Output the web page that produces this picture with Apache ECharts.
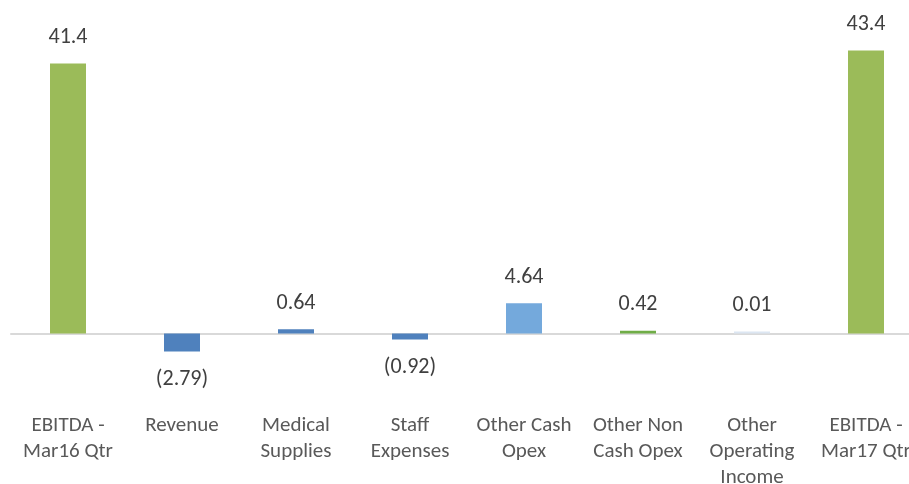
<!DOCTYPE html>
<html>
<head>
<meta charset="utf-8">
<script src="https://cdn.jsdelivr.net/npm/echarts@6/dist/echarts.min.js"></script>
<style>
  html, body { margin: 0; padding: 0; background: #fff; }
  #chart { width: 909px; height: 484px; }
</style>
</head>
<body>
<div id="chart"></div>
<script>
// EBITDA bridge: Mar16 quarter to Mar17 quarter
const categories = [
  'EBITDA -\nMar16 Qtr',
  'Revenue',
  'Medical\nSupplies',
  'Staff\nExpenses',
  'Other Cash\nOpex',
  'Other Non\nCash Opex',
  'Other\nOperating\nIncome',
  'EBITDA -\nMar17 Qtr'
];
const values = [41.4, -2.79, 0.64, -0.92, 4.64, 0.42, 0.01, 43.4];
const barColors = ['#9BBB59', '#4F81BD', '#4F81BD', '#4F81BD', '#74A9DC', '#70AD47', '#DCE6F2', '#9BBB59'];

const FONT = 'Carlito, "Liberation Sans Narrow", "Open Sans", sans-serif';

function fmt(v) {
  return v < 0 ? '(' + Math.abs(v).toFixed(2) + ')' : String(v);
}

const seriesData = values.map((v, i) => ({
  value: v,
  itemStyle: { color: barColors[i] },
  label: v < 0 ? { position: 'bottom', distance: 17 } : { position: 'top', distance: 15 }
}));

const chart = echarts.init(document.getElementById('chart'));
chart.setOption({
  animation: false,
  grid: { left: 11, top: 40, width: 912, height: 326, containLabel: false, outerBoundsMode: 'none' },
  xAxis: {
    type: 'category',
    data: categories,
    axisLine: { onZero: true, lineStyle: { color: '#D9D9D9', width: 2 } },
    axisTick: { show: false },
    axisLabel: {
      interval: 0,
      margin: 47,
      color: '#595959',
      fontSize: 21,
      lineHeight: 26,
      fontFamily: FONT,
      verticalAlign: 'top'
    }
  },
  yAxis: {
    type: 'value',
    min: -5,
    max: 45,
    show: false,
    splitLine: { show: false }
  },
  series: [{
    type: 'bar',
    barWidth: 36,
    barMinHeight: 2,
    data: seriesData,
    label: {
      show: true,
      color: '#404040',
      fontSize: 22,
      fontFamily: FONT,
      formatter: p => fmt(p.value)
    }
  }]
});
</script>
</body>
</html>
